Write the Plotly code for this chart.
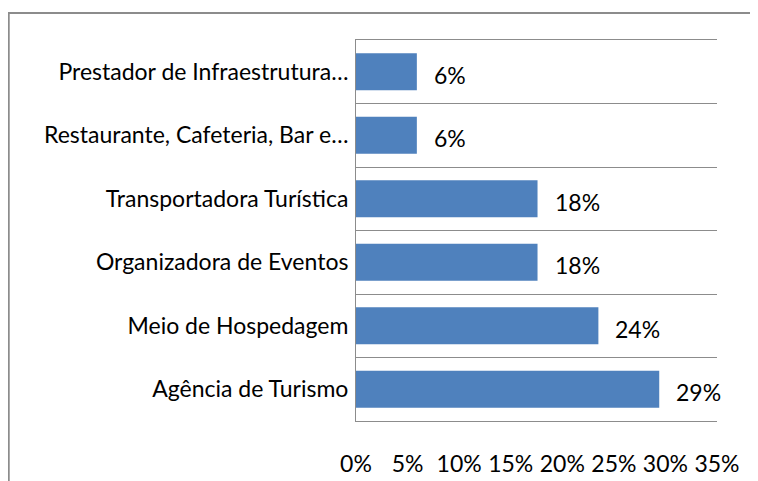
import plotly.graph_objects as go

categories = [
    "Agência de Turismo",
    "Meio de Hospedagem",
    "Organizadora de Eventos",
    "Transportadora Turística",
    "Restaurante, Cafeteria, Bar e…",
    "Prestador de Infraestrutura…",
]
values = [29.4, 23.5, 17.6, 17.6, 5.9, 5.9]
value_labels = ["29%", "24%", "18%", "18%", "6%", "6%"]
x_ticks = [0, 5, 10, 15, 20, 25, 30, 35]
x_tick_labels = ["0%", "5%", "10%", "15%", "20%", "25%", "30%", "35%"]

FONT = "Lato"
FSIZE = 23
GRID = "#8c8c8c"

fig = go.Figure()
fig.add_trace(go.Bar(
    x=values, y=categories, orientation="h",
    marker=dict(color="#4F81BD", line=dict(width=0)),
    hoverinfo="skip",
))

for v, c, t in zip(values, categories, value_labels):
    fig.add_annotation(x=v, y=c, text=t, showarrow=False, xanchor="left",
                       xshift=15, yshift=-3,
                       font=dict(family=FONT, size=FSIZE, color="black"))

# page body has an 8px margin, so the figure is sized/offset to compensate
fig.update_layout(
    width=750, height=473,
    margin=dict(l=348, r=41, t=32, b=60, autoexpand=False),
    paper_bgcolor="white", plot_bgcolor="white",
    bargap=0.42, showlegend=False,
    font=dict(family=FONT, size=FSIZE, color="black"),
    xaxis=dict(range=[0, 35], tickvals=x_ticks, ticktext=x_tick_labels,
               showgrid=False, zeroline=False, showline=True, mirror=True,
               linecolor=GRID, linewidth=1, ticks="", automargin=False,
               ticklabelstandoff=22, fixedrange=True),
    yaxis=dict(type="category", categoryorder="array", categoryarray=categories,
               tickson="boundaries", showgrid=True, gridcolor=GRID, gridwidth=1,
               showline=True, linecolor=GRID, linewidth=1, ticks="",
               automargin=False,
               ticklabelstandoff=2, zeroline=False, fixedrange=True),
    shapes=[dict(type="rect", xref="paper", yref="paper",
                 x0=-0.962, x1=1.4, y0=-0.4, y1=1.071,
                 line=dict(color=GRID, width=2), fillcolor="rgba(0,0,0,0)",
                 layer="below")],
)

fig.write_html("out.html")
